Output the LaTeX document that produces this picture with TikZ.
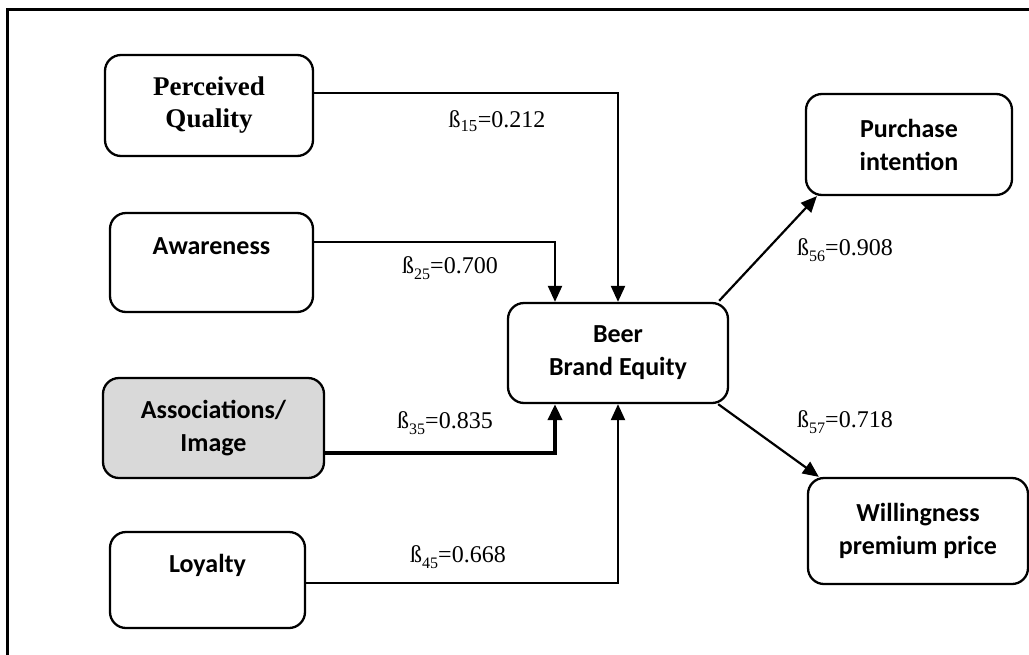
\documentclass[tikz,border=0pt]{standalone}
\usepackage{fontspec}
\setmainfont{Liberation Serif}
\newfontfamily\calib{Carlito}
\usetikzlibrary{arrows.meta}
\newcommand{\lowsub}[1]{\raisebox{-0.55ex}{\fontsize{16}{16}\selectfont #1}}
\begin{document}
\begin{tikzpicture}[x=1pt,y=-1pt,
 box/.style={draw, line width=2.3pt, rounded corners=16pt, align=center, inner sep=0pt,
   font=\calib\bfseries\fontsize{26}{33}\selectfont},
 conn/.style={line width=2.2pt, -{Triangle[length=16pt,width=14pt]}},
 thickconn/.style={line width=4pt, -{Triangle[length=16pt,width=14pt]}},
 lab/.style={font=\fontsize{24}{28}\selectfont, inner sep=0pt}]
\useasboundingbox (0,0) rectangle (1029,654);
\clip (0,0) rectangle (1029,654);
\draw[line width=3pt] (7,680) -- (7,9) -- (1050,9);

\node[box, minimum width=208pt, minimum height=101pt, font=\bfseries\fontsize{27}{32}\selectfont] (pq) at (209,105.5) {Perceived\\Quality};
\node[box, minimum width=203pt, minimum height=99pt] (aw) at (211.5,262.5) {Awareness\\~};
\node[box, minimum width=221pt, minimum height=100pt, fill=black!15] (as) at (213.5,428) {Associations/\\Image};
\node[box, minimum width=195pt, minimum height=96pt] (lo) at (207.5,580) {Loyalty\\~};
\node[box, minimum width=220pt, minimum height=100pt] (bbe) at (618,353) {Beer\\Brand Equity};
\node[box, minimum width=206pt, minimum height=101pt] (pi) at (909,144.5) {Purchase\\intention};
\node[box, minimum width=220pt, minimum height=106pt] (wp) at (918,531) {Willingness\\premium price};

\draw[conn] ([yshift=12.5pt]pq.east) -| (bbe.north);
\draw[conn] ([yshift=20.5pt]aw.east) -| ([xshift=-63pt]bbe.north);
\draw[thickconn] ([yshift=-25pt]as.east) -| ([xshift=-63pt]bbe.south);
\draw[conn] ([yshift=-3pt]lo.east) -| (bbe.south);
\draw[conn] ([xshift=-10pt,yshift=1pt]bbe.north east) -- ([xshift=12pt]pi.south west);
\draw[conn] ([xshift=-11pt]bbe.south east) -- ([xshift=12pt]wp.north west);

\node[lab] (l15) at (497,121) {ß\textsubscript{15}=0.212};
\node[lab] (l25) at (450,268) {ß\lowsub{25}=0.700};
\node[lab] (l35) at (445,423) {ß\lowsub{35}=0.835};
\node[lab] (l45) at (458,557) {ß\lowsub{45}=0.668};
\node[lab] (l56) at (845,250) {ß\lowsub{56}=0.908};
\node[lab] (l57) at (845,422) {ß\lowsub{57}=0.718};
\end{tikzpicture}
\end{document}
